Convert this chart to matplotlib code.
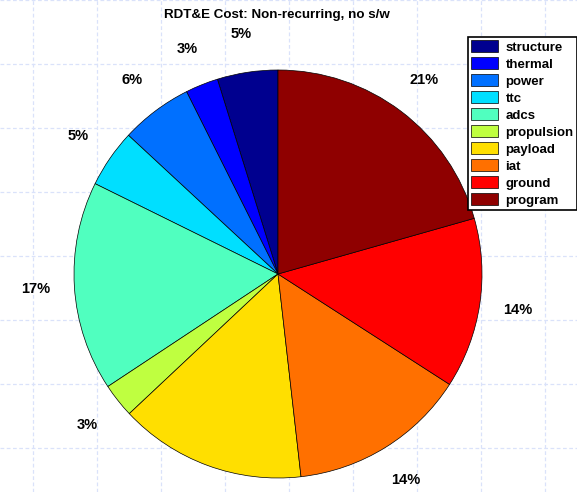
import matplotlib.pyplot as plt
import numpy as np

# data (percent of RDT&E non-recurring cost)
labels = ['structure', 'thermal', 'power', 'ttc', 'adcs',
          'propulsion', 'payload', 'iat', 'ground', 'program']
values = [4.8, 2.6, 5.7, 4.6, 16.6, 2.7, 14.8, 14.1, 13.5, 20.6]
colors = ['#00008f', '#0000ff', '#0070ff', '#00dfff', '#50ffbf',
          '#bfff40', '#ffdf00', '#ff7000', '#ff0000', '#8f0000']
title = 'RDT&E Cost: Non-recurring, no s/w'

plt.rcParams['font.family'] = ['Liberation Sans', 'DejaVu Sans']

W, H = 577, 492
fig = plt.figure(figsize=(W / 100, H / 100), dpi=100)

# faint dashed background grid
bg = fig.add_axes([0, 0, 1, 1])
bg.set_xlim(0, W)
bg.set_ylim(H, 0)
bg.set_xticks(np.arange(33, W, 64))
bg.set_yticks(np.arange(0, H, 64))
bg.grid(True, color='#dae2fa', linestyle=(0, (3, 2)), linewidth=0.9)
bg.tick_params(length=0, labelbottom=False, labelleft=False)
for s in bg.spines.values():
    s.set_visible(False)

# pie
cx, cy, r = 278, 274, 204
ax = fig.add_axes([(cx - r) / W, (H - cy - r) / H, 2 * r / W, 2 * r / H])
wedges, _, autotexts = ax.pie(values, colors=colors, startangle=90,
                              counterclock=True, autopct='%1.0f%%',
                              pctdistance=1.19,
                              wedgeprops=dict(edgecolor='black', linewidth=0.5))
for t in autotexts:
    t.set_fontsize(10.5)
    t.set_fontweight('bold')
# payload label falls below the figure edge in the original
autotexts[labels.index('payload')].set_visible(False)
ax.set_xlim(-1, 1)
ax.set_ylim(-1, 1)

fig.text(277 / W, 1 - 15 / H, title, ha='center', va='center',
         fontsize=9.6, fontweight='bold')

leg = fig.legend(wedges, labels, loc='upper left',
                 bbox_to_anchor=(468 / W, 1 - 37 / H),
                 prop=dict(weight='bold', size=9.5),
                 frameon=True, fancybox=False, framealpha=1,
                 edgecolor='black', borderpad=0.25, labelspacing=0.27,
                 handlelength=2.0, handleheight=1.0, handletextpad=0.6,
                 borderaxespad=0)
leg.get_frame().set_linewidth(1.2)

fig.savefig('out.png', dpi=100)
